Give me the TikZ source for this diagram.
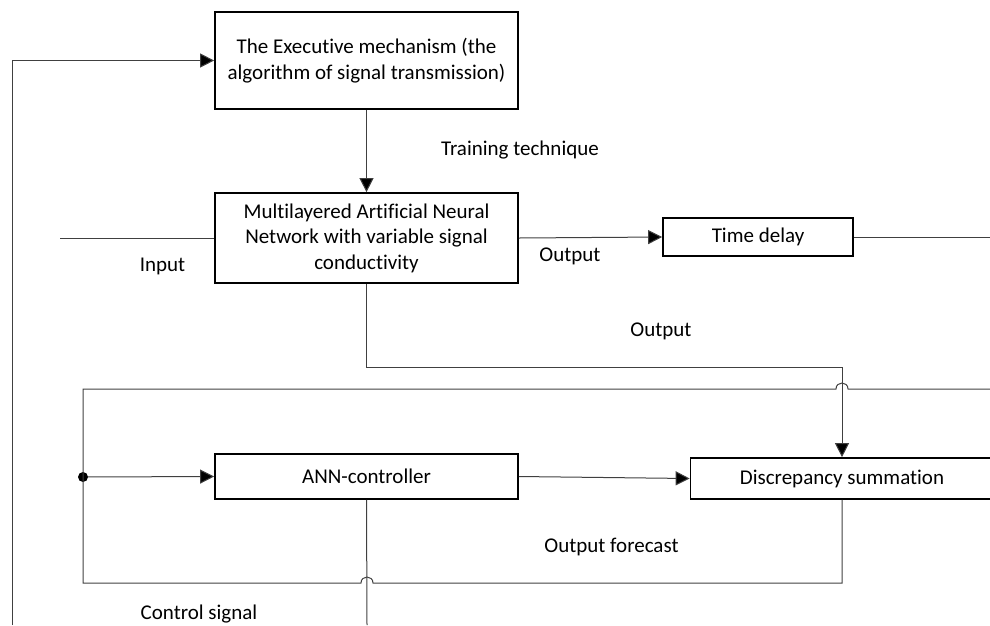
\documentclass[tikz,border=0pt]{standalone}
\usepackage{fontspec}
\setmainfont{Carlito}[Ligatures=NoCommon,RawFeature={-calt}]
\usetikzlibrary{arrows.meta}

\tikzset{
  block/.style={draw=black,line width=1.7pt,fill=white,align=center,inner sep=0pt},
  wire/.style={draw=black!75,line width=1pt},
  feed/.style={wire,-{Triangle[length=14pt,width=14pt,fill=black]}},
  lbl/.style={inner sep=0pt}
}

\begin{document}
\begin{tikzpicture}[x=1pt,y=-1pt,font=\fontsize{21}{25.5}\selectfont]
      \useasboundingbox (0,0) rectangle (990,625);
      \clip (0,0) rectangle (990,625);
      % blocks
      \node[block,minimum width=303pt,minimum height=97pt] (exec) at (366.5,60.5)
        {The Executive mechanism (the\\algorithm of signal transmission)};
      \node[block,minimum width=303pt,minimum height=90pt] (mann) at (366.5,238)
        {Multilayered Artificial Neural\\Network with variable signal\\conductivity};
      \node[block,minimum width=190pt,minimum height=38pt] (delay) at (758,237) {Time delay};
      \node[block,minimum width=303pt,minimum height=45pt] (ann) at (366.5,476.5) {ANN-controller};
      \node[block,minimum width=303pt,minimum height=41pt] (disc) at (842,478.5) {Discrepancy summation};
      \node[circle,fill=black,inner sep=0pt,minimum size=10pt] (dot) at (83,477) {};
      % free ends and bends
      \coordinate (in) at (60,238);
      \coordinate (out) at (990,237);
      \coordinate (bend) at (842,367);
      \coordinate (top) at (83,389);
      \coordinate (topend) at (990,389);
      \coordinate (bot) at (83,583);
      \coordinate (botend) at (842,583);
      \coordinate (ctrl) at (367,625);
      \coordinate (loop) at (12,625);
      % connectors
      \draw[feed] (exec.south) -- (mann.north);
      \draw[wire] (in) -- (mann.west);
      \draw[feed] (mann.east) -- (delay.west);
      \draw[wire] (delay.east) -- (out);
      \draw[feed] (mann.south) |- (bend) -- (disc.north);
      \draw[wire] (dot.center) -- (top) -- (836,389) .. controls (836,381) and (848,381) .. (848,389) -- (topend);
      \draw[wire] (dot.center) -- (bot) -- (361,583) .. controls (361,575) and (373,575) .. (373,583) -- (botend) -- (disc.south);
      \draw[feed] (dot) -- (ann.west);
      \draw[feed] (ann.east) -- (disc.west);
      \draw[wire] (ann.south) -- (ctrl);
      \draw[feed] (loop) |- (exec.west);
      % labels
      \node[lbl] (train) at (520,150) {Training technique};
      \node[lbl] (input) at (162.5,266) {Input};
      \node[lbl] (out1) at (570,256) {Output};
      \node[lbl] (out2) at (661,331) {Output};
      \node[lbl] (fcast) at (611.5,547) {Output forecast};
      \node[lbl] (csig) at (199,614) {Control signal};
\end{tikzpicture}
\end{document}
